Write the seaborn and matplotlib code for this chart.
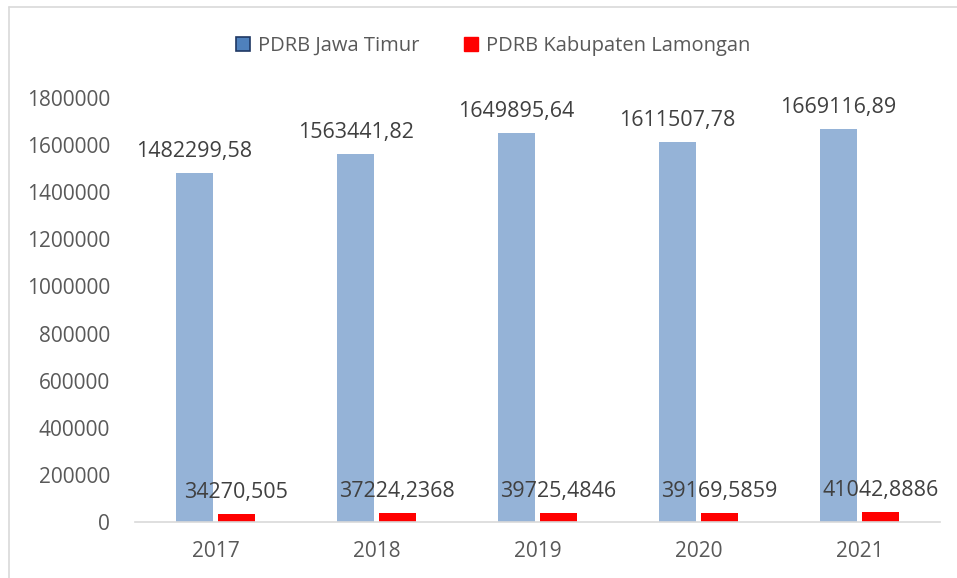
import matplotlib
matplotlib.use("Agg")
import matplotlib.pyplot as plt
from matplotlib.lines import Line2D
from matplotlib.patches import Patch
from matplotlib.ticker import FuncFormatter
import pandas as pd
import seaborn as sns

years = ["2017", "2018", "2019", "2020", "2021"]
jatim = [1482299.58, 1563441.82, 1649895.64, 1611507.78, 1669116.89]
lamongan = [34270.505, 37224.2368, 39725.4846, 39169.5859, 41042.8886]
series = ["PDRB Jawa Timur", "PDRB Kabupaten Lamongan"]

df = pd.DataFrame({
    "tahun": years * 2,
    "nilai": jatim + lamongan,
    "seri": [series[0]] * len(years) + [series[1]] * len(years),
})

sns.set_style("white")
plt.rcParams["font.family"] = ["Open Sans", "DejaVu Sans"]

text_col = "#595959"
fig = plt.figure(figsize=(9.57, 5.78), dpi=100)
ax = fig.add_axes([135 / 957, 1 - 522 / 578, 805 / 957, 424 / 578])

sns.barplot(data=df, x="tahun", y="nilai", hue="seri", order=years,
            hue_order=series, palette=["#95B3D7", "#FF0000"], saturation=1,
            width=0.52, gap=0.1, legend=False, linewidth=0, ax=ax)

for cont, vals in zip(ax.containers, [jatim, lamongan]):
    ax.bar_label(cont, labels=[str(v).replace(".", ",") for v in vals],
                 padding=8, fontsize=15.5, color="#404040")

ax.set_ylim(0, 1800000)
ax.set_xlim(-0.5, 4.5)
ax.set_yticks(range(0, 1800001, 200000))
ax.yaxis.set_major_formatter(FuncFormatter(lambda v, p: f"{int(v)}"))
ax.set_xlabel("")
ax.set_ylabel("")
ax.tick_params(axis="both", labelsize=15, colors=text_col, length=0)
ax.tick_params(axis="y", pad=18)
ax.tick_params(axis="x", pad=14)
for s in ["top", "right", "left"]:
    ax.spines[s].set_visible(False)
ax.spines["bottom"].set_color("#D9D9D9")
ax.spines["bottom"].set_linewidth(1.2)

handles = [Patch(facecolor="#4F81BD", edgecolor="#1F3864", linewidth=1.2),
           Patch(facecolor="#FF0000", edgecolor="#FF0000")]
fig.legend(handles, series, loc="center", bbox_to_anchor=(493 / 957, 1 - 46 / 578),
           ncol=2, frameon=False, fontsize=14.5, labelcolor=text_col,
           handlelength=0.7, handleheight=0.7, handletextpad=0.4, columnspacing=2.2)

# outer chart border (top and left visible)
fig.add_artist(Line2D([9 / 957, 1], [1 - 7 / 578] * 2, color="#D9D9D9", lw=1.2))
fig.add_artist(Line2D([9 / 957] * 2, [0, 1 - 7 / 578], color="#D9D9D9", lw=1.2))

fig.savefig("out.png", dpi=100)
